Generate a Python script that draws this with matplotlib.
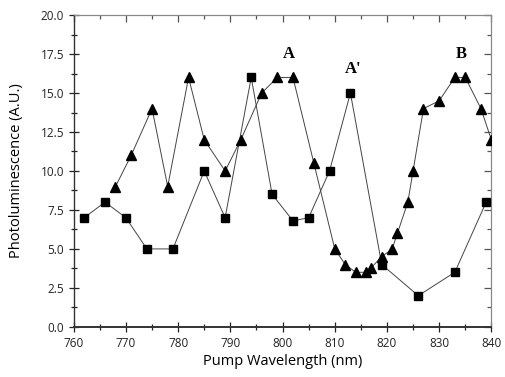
import matplotlib
matplotlib.use("Agg")
import matplotlib.pyplot as plt
from matplotlib.ticker import MultipleLocator

# triangle series
tri_x = [768, 771, 775, 778, 782, 785, 789, 792, 796, 799, 802, 806, 810, 812,
         814, 816, 817, 819, 821, 822, 824, 825, 827, 830, 833, 835, 838, 840]
tri_y = [9, 11, 14, 9, 16, 12, 10, 12, 15, 16, 16, 10.5, 5, 4,
         3.5, 3.5, 3.8, 4.5, 5, 6, 8, 10, 14, 14.5, 16, 16, 14, 12]

# square series
sq_x = [762, 766, 770, 774, 779, 785, 789, 794, 798, 802, 805, 809, 813, 819, 826, 833, 839]
sq_y = [7, 8, 7, 5, 5, 10, 7, 16, 8.5, 6.8, 7, 10, 15, 4, 2, 3.5, 8]

peak_labels = ["A", "A'", "B"]
peak_x = [801.3, 813.6, 834.2]
peak_y = [17.0, 16.0, 17.0]

plt.rcParams['font.family'] = ['Open Sans', 'DejaVu Sans']

fig = plt.figure(figsize=(5.05, 3.77), dpi=100)
ax = fig.add_axes([0.146, 0.133, 0.827, 0.827])

ax.plot(sq_x, sq_y, color='#444444', lw=0.7, marker='s', ms=5.5,
        mfc='black', mec='black', zorder=3)
ax.plot(tri_x, tri_y, color='#444444', lw=0.7, marker='^', ms=7.5,
        mfc='black', mec='black', zorder=3)

for t, x, y in zip(peak_labels, peak_x, peak_y):
    ax.text(x, y, t, fontsize=12, fontweight='bold', family='Liberation Serif',
            ha='center', va='bottom')

ax.set_xlim(760, 840)
ax.set_ylim(0, 20)
ax.xaxis.set_major_locator(MultipleLocator(10))
ax.xaxis.set_minor_locator(MultipleLocator(5))
ax.yaxis.set_major_locator(MultipleLocator(2.5))
ax.yaxis.set_minor_locator(MultipleLocator(1.25))
ax.yaxis.set_major_formatter(plt.FormatStrFormatter('%.1f'))

ax.tick_params(which='both', direction='inout', labelsize=8.5, colors='#222222')
ax.tick_params(which='major', length=7, width=0.9)
ax.tick_params(which='minor', length=4, width=0.9)

# top and right ticks point inward only
top = ax.secondary_xaxis('top')
top.xaxis.set_major_locator(MultipleLocator(10))
top.xaxis.set_minor_locator(MultipleLocator(5))
top.tick_params(which='both', direction='in', labeltop=False, colors='#555555')
top.tick_params(which='major', length=5, width=0.9)
top.tick_params(which='minor', length=3, width=0.9)
right = ax.secondary_yaxis('right')
right.yaxis.set_major_locator(MultipleLocator(2.5))
right.yaxis.set_minor_locator(MultipleLocator(1.25))
right.tick_params(which='both', direction='in', labelright=False, colors='#555555')
right.tick_params(which='major', length=5, width=0.9)
right.tick_params(which='minor', length=3, width=0.9)
for sec in (top, right):
    for s in sec.spines.values():
        s.set_color('#888888')
        s.set_linewidth(0.8)

for s in ['top', 'right']:
    ax.spines[s].set_color('#888888')
    ax.spines[s].set_linewidth(0.8)
for s in ['bottom', 'left']:
    ax.spines[s].set_color('#333333')
    ax.spines[s].set_linewidth(1.0)
ax.spines['bottom'].set_linewidth(1.4)

ax.set_xlabel('Pump Wavelength (nm)', fontsize=10.5, labelpad=3)
ax.set_ylabel('Photoluminescence (A.U.)', fontsize=10.5, labelpad=12)

fig.savefig('out.png', dpi=100)
